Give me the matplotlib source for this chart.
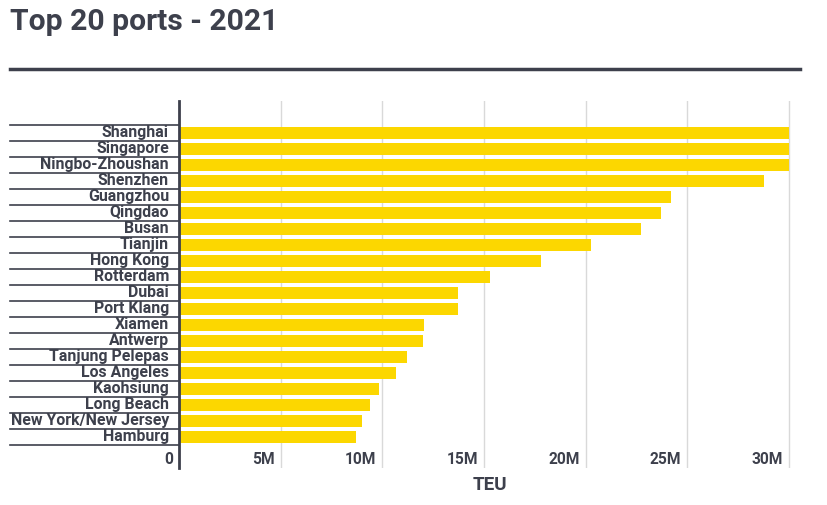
import matplotlib
matplotlib.use("Agg")
import matplotlib.pyplot as plt
import matplotlib.transforms as mtransforms
import numpy as np

ports = ["Shanghai", "Singapore", "Ningbo-Zhoushan", "Shenzhen", "Guangzhou", "Qingdao",
         "Busan", "Tianjin", "Hong Kong", "Rotterdam", "Dubai", "Port Klang", "Xiamen",
         "Antwerp", "Tanjung Pelepas", "Los Angeles", "Kaohsiung", "Long Beach",
         "New York/New Jersey", "Hamburg"]
teu_millions = [47.03, 37.47, 31.07, 28.76, 24.18, 23.70, 22.71, 20.27, 17.80, 15.30,
                13.74, 13.72, 12.05, 12.02, 11.20, 10.68, 9.86, 9.38, 8.99, 8.72]
axis_cap = 30.0
tick_values = [0, 5, 10, 15, 20, 25, 30]
tick_labels = ["0", "5M", "10M", "15M", "20M", "25M", "30M"]

DARK = "#3d404c"
BAR = "#fcd700"
GRID = "#d9d9d9"

plt.rcParams['font.family'] = ['Roboto', 'DejaVu Sans']

fig = plt.figure(figsize=(8.27, 5.05), dpi=100)
ax = fig.add_axes([179/827, 1-468/505, (800-179)/827, (468-101)/505])

y = np.arange(len(ports))
vals = np.minimum(np.array(teu_millions), axis_cap)
ax.barh(y, vals, height=0.72, color=BAR, zorder=2)

ax.set_xlim(0, 30.54)
ax.set_ylim(len(ports) - 1 + 1.95, -2.0)

for v in tick_values[1:]:
    ax.axvline(v, color=GRID, lw=1, zorder=1)

for s in ["top", "right", "bottom"]:
    ax.spines[s].set_visible(False)
ax.spines["left"].set_color(DARK)
ax.spines["left"].set_linewidth(2)
ax.spines["left"].set_zorder(3)

ax.set_xticks([])
ax.set_yticks([])

# category labels
trans_y = mtransforms.blended_transform_factory(ax.transAxes, ax.transData)
for i, p in enumerate(ports):
    ax.annotate(p, xy=(0, i), xycoords=trans_y, xytext=(-10, 0), textcoords="offset pixels",
                ha="right", va="center", fontsize=11.4, fontweight="bold", color=DARK)
# separator lines
for i in range(len(ports) + 1):
    ax.plot([-169/621, 0], [i - 0.5, i - 0.5], transform=trans_y, color=DARK, lw=1.2,
            clip_on=False, zorder=3)

# x tick labels inside the axes bottom
trans_x = mtransforms.blended_transform_factory(ax.transData, ax.transAxes)
for v, lab in zip(tick_values, tick_labels):
    ax.annotate(lab, xy=(v, 0), xycoords=trans_x, xytext=(-6, 9), textcoords="offset pixels",
                ha="right", va="center", fontsize=11.2, fontweight="bold", color=DARK)

fig.text(0.5 * (179 + 800) / 827, 1 - 485/505, "TEU", ha="center", va="center",
         fontsize=13.5, fontweight="bold", color=DARK)

fig.text(10/827, 1 - 22/505, "Top 20 ports - 2021", ha="left", va="center",
         fontsize=21.7, fontweight="bold", color=DARK)
fig.add_artist(plt.Line2D([10/827, 800/827], [1 - 69/505, 1 - 69/505],
                          color=DARK, lw=2.5, transform=fig.transFigure))

fig.savefig("out.png", dpi=100)
